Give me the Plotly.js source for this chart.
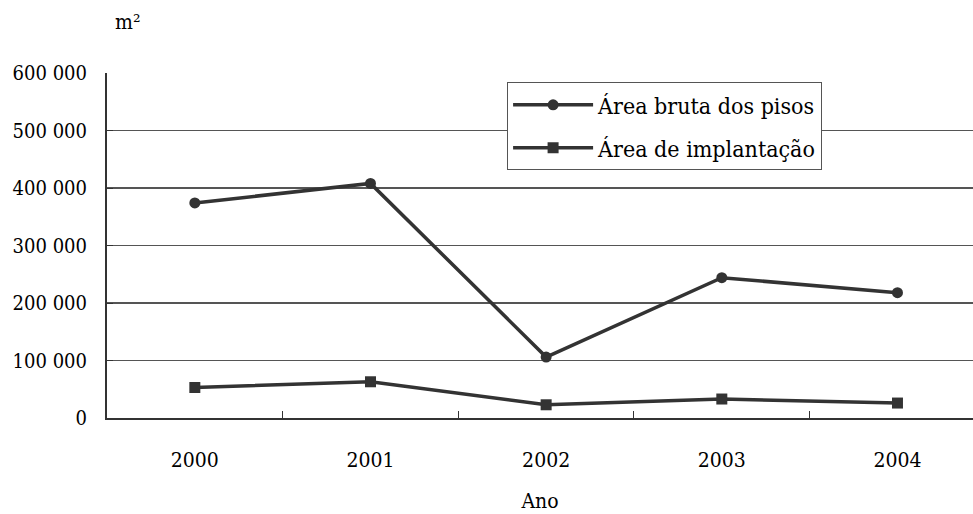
<!DOCTYPE html>
<html>
<head>
<meta charset="utf-8">
<script src="https://cdn.plot.ly/plotly-3.0.1.min.js"></script>
<style>html,body{margin:0;padding:0;background:#fff;}#chart{width:973px;height:514px;}</style>
</head>
<body>
<div id="chart"></div>
<script>
var years = ["2000", "2001", "2002", "2003", "2004"];
var areaBruta = [374000, 408000, 106000, 244000, 218000];
var areaImplantacao = [53000, 63000, 23000, 33000, 26000];
var seriesNames = ["Área bruta dos pisos", "Área de implantação"];
var yTicks = [0, 100000, 200000, 300000, 400000, 500000, 600000];

var FONT = '"DejaVu Serif Condensed", "DejaVu Serif", serif';
var lineColor = "#333333";

var traces = [
  {
    x: years, y: areaBruta, name: seriesNames[0], legendgroup: "a", type: "scatter", mode: "lines+markers",
    line: {color: lineColor, width: 3.5},
    marker: {symbol: "circle", size: 11, color: lineColor}
  },
  {
    x: years, y: areaImplantacao, name: seriesNames[1], legendgroup: "b", type: "scatter", mode: "lines+markers",
    line: {color: lineColor, width: 3.5},
    marker: {symbol: "square", size: 11, color: lineColor}
  }
];

var layout = {
  width: 973, height: 514,
  margin: {l: 107, r: 0, t: 73, b: 96, pad: 0},
  paper_bgcolor: "#fff", plot_bgcolor: "#fff",
  separators: ", ",
  font: {family: FONT, size: 20, color: "#000"},
  showlegend: true,
  legend: {
    x: 0.462, y: 0.973, xanchor: "left", yanchor: "top",
    bordercolor: "#555", borderwidth: 1, bgcolor: "#fff",
    font: {family: FONT, size: 23, color: "#000"},
    itemwidth: 80, tracegroupgap: 10
  },
  xaxis: {
    type: "category", range: [-0.5, 4.43],
    tickson: "boundaries", ticks: "inside", ticklen: 7, tickcolor: "#333", tickwidth: 1,
    showline: true, linecolor: "#333", linewidth: 2,
    showgrid: false, zeroline: false,
    ticklabelstandoff: 22,
    tickfont: {family: FONT, size: 21, color: "#000"},
    title: {text: "Ano", font: {family: FONT, size: 21, color: "#000"}, standoff: 22}
  },
  yaxis: {
    range: [0, 600000], tickvals: yTicks, tickformat: ",d",
    ticks: "inside", ticklen: 6, tickcolor: "#333", tickwidth: 1,
    showline: true, linecolor: "#333", linewidth: 2,
    showgrid: true, gridcolor: "#555", gridwidth: 1.2,
    zeroline: false,
    ticklabelstandoff: 14,
    tickfont: {family: FONT, size: 20, color: "#000"}
  },
  annotations: [
    {text: "m²", xref: "paper", yref: "paper", x: 0.007, y: 1.148, xanchor: "left", yanchor: "middle",
     showarrow: false, font: {family: FONT, size: 21, color: "#000"}}
  ]
};

Plotly.newPlot("chart", traces, layout, {displayModeBar: false, staticPlot: true});
</script>
</body>
</html>
